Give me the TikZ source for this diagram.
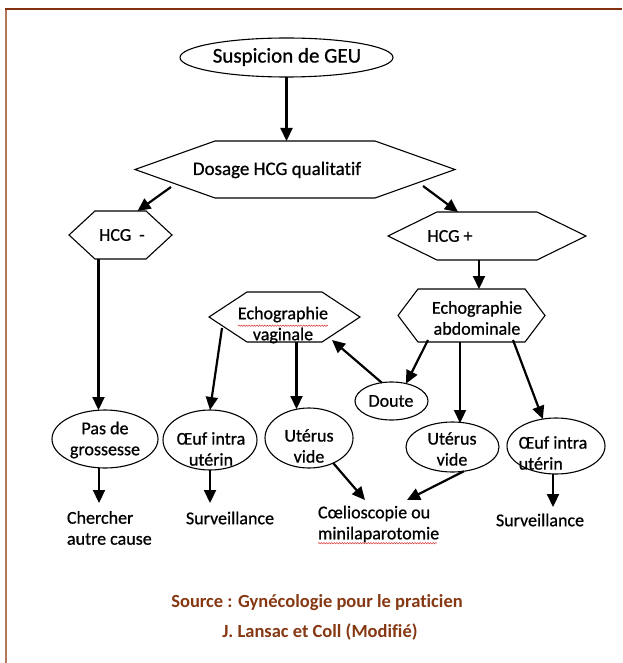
\documentclass[tikz,border=0pt]{standalone}
\usepackage{fontspec}
\setmainfont{Carlito}[Ligatures={NoCommon}, FakeBold=0.8, BoldFeatures={FakeBold=0}]
\usetikzlibrary{arrows.meta,shapes.geometric,decorations.pathmorphing,calc}

\definecolor{frametop}{RGB}{130,48,14}
\definecolor{frameleft}{RGB}{178,120,90}
\definecolor{sourcebrown}{RGB}{133,56,18}
\definecolor{spellred}{RGB}{214,60,60}

\tikzset{
  every node/.style={inner sep=0pt, outer sep=0pt},
  oval/.style={ellipse, draw, line width=1.1pt},
  hexbox/.style={rectangle, draw=none},
  txt/.style={font=\fontsize{18}{21}\selectfont, align=center},
  txtl/.style={font=\fontsize{18}{21}\selectfont, align=left},
  big/.style={font=\fontsize{21}{24}\selectfont},
  src/.style={font=\fontsize{18.5}{22}\selectfont\bfseries, text=sourcebrown},
  arr/.style={line width=2.2pt, -{Triangle[length=13pt,width=12pt]}},
  spell/.style={spellred, line width=0.5pt, decorate,
    decoration={snake, amplitude=0.7pt, segment length=2.6pt}},
}

\begin{document}
\begin{tikzpicture}[x=1pt,y=-1pt]
\useasboundingbox (0,0) rectangle (622,663);

% frame
\draw[frameleft, line width=2pt] (6,9) -- (6,663);
\draw[frametop, line width=2pt] (5,9) -- (622,9);

% shapes
\node[oval, minimum width=213pt, minimum height=39pt] (susp) at (286.5,57.5) {};
\node[hexbox, minimum width=320pt, minimum height=57pt] (dosage) at (295,169.5) {};
\node[hexbox, minimum width=103pt, minimum height=48pt] (hcgm) at (120.5,235) {};
\node[hexbox, minimum width=198pt, minimum height=48pt] (hcgp) at (487,236) {};
\node[hexbox, minimum width=147pt, minimum height=53pt] (echabd) at (471.5,315.5) {};
\node[hexbox, minimum width=151pt, minimum height=50pt] (echvag) at (284.5,317) {};
\node[oval, minimum width=73pt, minimum height=38pt] (doute) at (391.5,401) {};
\node[oval, minimum width=106pt, minimum height=58pt] (pas) at (105,439) {};
\node[oval, minimum width=94pt, minimum height=60pt] (oeufA) at (210,440) {};
\node[oval, minimum width=88pt, minimum height=60pt] (uterusA) at (309,438) {};
\node[oval, minimum width=93pt, minimum height=50pt] (uterusB) at (452.5,447) {};
\node[oval, minimum width=98pt, minimum height=56pt] (oeufB) at (556,446) {};

% hexagon outlines: name / depth of the pointed ends
\foreach \n/\d in {dosage/80, hcgm/26, hcgp/49, echabd/20, echvag/38}{
  \draw[line width=1.1pt, line join=miter]
    (\n.west) -- ([xshift=\d pt]\n.north west) -- ([xshift=-\d pt]\n.north east)
    -- (\n.east) -- ([xshift=-\d pt]\n.south east) -- ([xshift=\d pt]\n.south west) -- cycle;
}

% texts
\node[big] (tsusp) at (287,57) {Suspicion de GEU};
\node[txt, font=\fontsize{19}{22}\selectfont] (tdosage) at (277,170) {Dosage HCG qualitatif};
\node[txt] (thcgm) at (122,235) {HCG\ \ -};
\node[txt] (thcgp) at (450,236) {HCG +};
\node[txt] (techabd) at (477,318) {Echographie\\abdominale};
\node[txt] (techvag) at (283,325) {Echographie\\vaginale};
\node[txt] (tdoute) at (391,401) {Doute};
\node[txt] (tpas) at (105,440) {Pas de\\grossesse};
\node[txt] (toeufA) at (211,449) {Œuf intra\\utérin};
\node[txt] (tuterusA) at (309,446) {Utérus\\vide};
\node[txt] (tuterusB) at (452,449) {Utérus\\vide};
\node[txtl] (toeufB) at (553,453) {Œuf intra\\utérin};
\node[txtl, anchor=west] (chercher) at (67,528) {Chercher\\autre cause};
\node[txt] (survA) at (230,518) {Surveillance};
\node[txtl, anchor=west] (coelio) at (318,524) {Cœlioscopie ou\\minilaparotomie};
\node[txt] (survB) at (540,520) {Surveillance};
\node[src] (src1) at (317,603) {Source : Gynécologie pour le praticien};
\node[src] (src2) at (320,632) {J. Lansac et Coll (Modifié)};

% spell-check marks
\draw[spell] ($(techvag.north west)+(0,19)$) -- ($(techvag.north east)+(0,19)$);
\draw[spell] ($(coelio.south west)+(0,1)$) -- ($(coelio.south west)+(119,1)$);

% connectors
\draw[arr] (susp.south) -- (susp.south |- dosage.north);
\draw[arr] ($(dosage.south west)+(36,-11)$) -- ($(hcgm.north)+(17,0)$);
\draw[arr] ($(dosage.south east)+(-32,-12)$) -- ($(hcgp.north)+(-29,0)$);
\draw[arr] ($(hcgm.south)+(-22,0)$) coordinate (p1) -- (p1 |- pas.north);
\draw[arr] ($(hcgp.south)+(-8,0)$) coordinate (p2) -- (p2 |- echabd.north);
\draw[arr] ($(echvag.south west)+(13,-14)$) -- (oeufA.north);
\draw[arr] ($(echvag.south)+(12,0)$) coordinate (p3) -- ($(p3 |- uterusA.north)+(0,1)$);
\draw[arr] ($(echabd.south west)+(30,-2)$) -- (doute.50);
\draw[arr] (doute.118) -- ($(echvag.south east)+(-28,-2)$);
\draw[arr] ($(echabd.south)+(-11.5,0)$) coordinate (p4) -- ($(p4 |- uterusB.north)+(0,1)$);
\draw[arr] ($(echabd.south east)+(-32,-2)$) -- (oeufB.116);
\draw[arr] ($(pas.south)+(-6,0)$) -- ($(chercher.west)+(32,-25)$);
\draw[arr] (oeufA.south) -- ($(survA)+(-20,-15)$);
\draw[arr] (uterusA.-46) -- ($(coelio.west)+(47,-24)$);
\draw[arr] (uterusB.-65) -- ($(coelio.west)+(89,-24)$);
\draw[arr] ($(oeufB.south)+(-3,0)$) -- ($(survB)+(13,-13)$);
\end{tikzpicture}
\end{document}
